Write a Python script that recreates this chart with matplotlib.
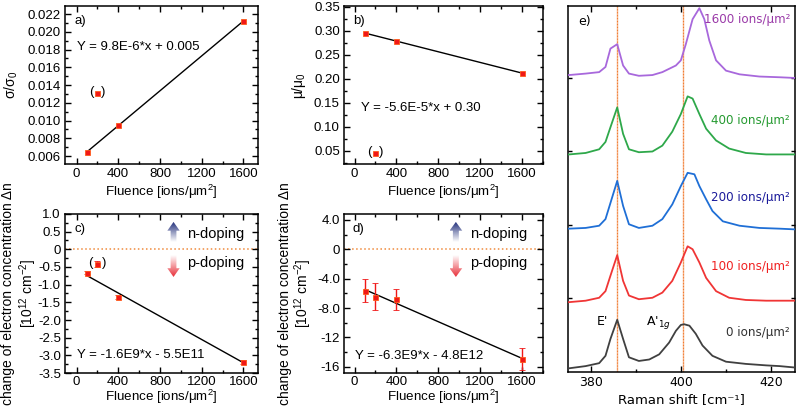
import numpy as np
import matplotlib
matplotlib.use("Agg")
import matplotlib.pyplot as plt
from matplotlib.ticker import AutoMinorLocator, FixedLocator, FixedFormatter, FormatStrFormatter
from matplotlib.patches import Polygon
from matplotlib.colors import LinearSegmentedColormap

plt.rcParams["font.family"] = ["Liberation Sans", "DejaVu Sans"]
plt.rcParams["mathtext.fontset"] = "custom"
plt.rcParams["mathtext.rm"] = "Liberation Sans"
plt.rcParams["mathtext.it"] = "Liberation Sans:italic"
plt.rcParams["axes.unicode_minus"] = False

# transport data (panels a-d)
fluence = [100, 200, 400, 1600]
sigma_ratio = [0.0064, 0.0131, 0.0095, 0.0212]
mu_ratio = [0.296, 0.045, 0.278, 0.212]
dn_hall = [-0.66, -0.41, -1.34, -3.19]
dn_hall_err = [0.05, 0.09, 0.06, 0.05]
dn_raman = [-5.64, -6.45, -6.81, -14.95]
dn_raman_err = [1.6, 1.8, 1.4, 1.45]
excluded = 1  # the 200 ions/um2 sample is bracketed in a-c

fit_text_a = "Y = 9.8E-6*x + 0.005"
fit_text_b = "Y = -5.6E-5*x + 0.30"
fit_text_c = "Y = -1.6E9*x - 5.5E11"
fit_text_d = "Y = -6.3E9*x - 4.8E12"

# Raman spectra (panel e), normalised intensity
x_0 = [375.2, 378.9, 381.9, 383.3, 384.4, 385.9, 387.2, 388.5, 390.7, 393.0, 395.2, 397.4,
       398.9, 400.0, 400.7, 401.9, 403.3, 404.8, 407.0, 410.0, 414.4, 418.9, 421.9, 425.4]
y_0 = [0.05, 0.08, 0.12, 0.22, 0.45, 0.71, 0.45, 0.20, 0.15, 0.17, 0.24, 0.40,
       0.56, 0.64, 0.65, 0.63, 0.52, 0.36, 0.22, 0.14, 0.11, 0.09, 0.08, 0.06]
x_100 = [375.2, 378.9, 381.9, 383.3, 384.4, 385.9, 387.2, 388.5, 390.7, 393.7, 395.9,
         398.1, 400.0, 401.5, 402.6, 404.1, 405.6, 407.8, 410.7, 414.4, 418.9, 425.4]
y_100 = [-0.05, -0.03, 0.01, 0.10, 0.31, 0.59, 0.24, 0.04, -0.01, 0.01, 0.08,
         0.24, 0.49, 0.71, 0.67, 0.49, 0.28, 0.10, 0.01, -0.02, -0.03, -0.03]
x_200 = [375.2, 378.9, 381.9, 383.3, 384.4, 385.9, 387.2, 388.5, 390.7, 393.7, 395.9, 398.1,
         400.0, 401.5, 403.0, 404.1, 405.6, 407.0, 409.3, 413.0, 417.4, 421.9, 425.4]
y_200 = [-0.05, -0.04, -0.01, 0.08, 0.30, 0.60, 0.26, 0.01, -0.04, -0.01, 0.08, 0.28,
         0.53, 0.71, 0.69, 0.53, 0.35, 0.19, 0.05, -0.01, -0.04, -0.05, -0.06]
x_400 = [375.2, 378.9, 381.9, 383.3, 384.4, 385.9, 387.2, 388.5, 390.7, 393.7, 395.9,
         398.1, 400.0, 401.5, 402.6, 404.1, 405.6, 407.8, 410.7, 414.4, 418.9, 425.4]
y_400 = [-0.04, -0.02, 0.03, 0.13, 0.33, 0.60, 0.24, 0.03, -0.01, 0.00, 0.08,
         0.27, 0.51, 0.75, 0.72, 0.51, 0.31, 0.15, 0.04, -0.02, -0.04, -0.04]
x_1600 = [375.2, 378.9, 381.9, 383.3, 384.4, 385.9, 387.2, 388.5, 390.7, 393.7, 395.9, 398.9,
          400.0, 401.1, 402.6, 404.1, 405.2, 406.3, 407.8, 410.0, 413.0, 417.4, 421.9, 425.4]
y_1600 = [0.04, 0.06, 0.08, 0.15, 0.40, 0.46, 0.17, 0.06, 0.03, 0.04, 0.08, 0.17,
          0.24, 0.46, 0.80, 0.95, 0.80, 0.51, 0.24, 0.10, 0.05, 0.02, 0.01, 0.00]
spectra_labels = ["0 ions/μm²", "100 ions/μm²", "200 ions/μm²", "400 ions/μm²", "1600 ions/μm²"]
e_prime = 385.9
a1g = 400.4

line_colors = ["#404040", "#f03535", "#1f6fd6", "#2ea84a", "#a868dc"]
label_colors = ["#303030", "#f02020", "#1a1a9a", "#259a30", "#9a3aa8"]
MARKER_RED = "#f01818"
ZERO_ORANGE = "#f08a3c"

fig = plt.figure(figsize=(7.96, 4.09), dpi=100)
ax_a = fig.add_axes([0.0817, 0.599, 0.2425, 0.3863])
ax_b = fig.add_axes([0.4322, 0.599, 0.2500, 0.3863])
ax_c = fig.add_axes([0.0817, 0.088, 0.2425, 0.3888])
ax_d = fig.add_axes([0.4322, 0.088, 0.2500, 0.3888])
ax_e = fig.add_axes([0.7136, 0.0905, 0.2852, 0.8949])


def style_axis(ax, fontsize=9.5):
    ax.tick_params(which="both", direction="in", top=True, right=True, labelsize=fontsize, pad=3)
    ax.tick_params(which="major", length=4, width=1)
    ax.tick_params(which="minor", length=2, width=1)
    for s in ax.spines.values():
        s.set_linewidth(1.1)


def fluence_axis(ax, pad=2):
    ax.xaxis.set_major_locator(FixedLocator([0, 400, 800, 1200, 1600]))
    ax.xaxis.set_minor_locator(AutoMinorLocator(2))
    ax.yaxis.set_minor_locator(AutoMinorLocator(2))
    ax.set_xlabel("Fluence [ions/μm$^2$]", fontsize=9.6, labelpad=pad)
    style_axis(ax)


def fit_line(ax, y, use):
    xs = np.array(fluence)[use]
    ys = np.array(y)[use]
    k, d = np.polyfit(xs, ys, 1)
    xl = np.array([min(fluence), max(fluence)])
    ax.plot(xl, k * xl + d, color="black", lw=1, zorder=2)


def bracket(ax, x, y, dx=4.4):
    ax.annotate("(", xy=(x, y), xytext=(-dx, 0.5), textcoords="offset points",
                ha="center", va="center", fontsize=9.5, zorder=6)
    ax.annotate(")", xy=(x, y), xytext=(dx, 0.5), textcoords="offset points",
                ha="center", va="center", fontsize=9.5, zorder=6)


def side_label(ax, x, text):
    ax.text(x, 0.5, text, transform=ax.transAxes, rotation=90, ha="center",
            va="center", fontsize=10)


def doping_arrow(ax, x, y_top, y_bot, up, color):
    hw, sw, hl = 0.032, 0.015, 0.055
    if up:
        pts = [(x - sw, y_bot), (x - sw, y_top - hl), (x - hw, y_top - hl), (x, y_top),
               (x + hw, y_top - hl), (x + sw, y_top - hl), (x + sw, y_bot)]
        grad = np.linspace(0, 1, 64).reshape(-1, 1)
    else:
        pts = [(x - sw, y_top), (x - sw, y_bot + hl), (x - hw, y_bot + hl), (x, y_bot),
               (x + hw, y_bot + hl), (x + sw, y_bot + hl), (x + sw, y_top)]
        grad = np.linspace(1, 0, 64).reshape(-1, 1)
    poly = Polygon(pts, closed=True, transform=ax.transAxes, facecolor="none", edgecolor="none")
    ax.add_patch(poly)
    cmap = LinearSegmentedColormap.from_list("arrow", ["#ffffff", color])
    im = ax.imshow(grad, extent=[x - hw, x + hw, y_bot, y_top], transform=ax.transAxes,
                   cmap=cmap, aspect="auto", origin="lower", zorder=3, interpolation="bilinear")
    im.set_clip_path(poly)


keep = [i for i in range(len(fluence)) if i != excluded]

# a) conductivity
fit_line(ax_a, sigma_ratio, keep)
ax_a.plot(fluence, sigma_ratio, "s", color=MARKER_RED, mec="#ff5a1a", mew=0.6, ms=3.6, zorder=4)
bracket(ax_a, fluence[excluded], sigma_ratio[excluded])
ax_a.text(0, 0.0183, fit_text_a, fontsize=9.5, va="center")
ax_a.text(0.047, 0.905, "a)", transform=ax_a.transAxes, fontsize=9.5, va="center")
side_label(ax_a, -0.277, "σ/σ$_0$")
ax_a.yaxis.set_major_locator(FixedLocator(np.arange(0.006, 0.0225, 0.002)))
ax_a.yaxis.set_major_formatter(FormatStrFormatter("%.3f"))
fluence_axis(ax_a)
ax_a.set_xlim(-110, 1740)
ax_a.set_ylim(0.0051, 0.0229)

# b) mobility
fit_line(ax_b, mu_ratio, keep)
ax_b.plot(fluence, mu_ratio, "s", color=MARKER_RED, mec="#ff5a1a", mew=0.6, ms=3.6, zorder=4)
bracket(ax_b, fluence[excluded], mu_ratio[excluded])
ax_b.text(60, 0.139, fit_text_b, fontsize=9.5, va="center")
ax_b.text(0.044, 0.905, "b)", transform=ax_b.transAxes, fontsize=9.5, va="center")
side_label(ax_b, -0.226, "μ/μ$_0$")
ax_b.yaxis.set_major_locator(FixedLocator(np.arange(0.05, 0.36, 0.05)))
ax_b.yaxis.set_major_formatter(FormatStrFormatter("%.2f"))
fluence_axis(ax_b)
ax_b.set_xlim(-100, 1800)
ax_b.set_ylim(0.022, 0.352)

dn_label_1 = "change of electron concentration Δn"
dn_label_2 = "[10$^{12}$ cm$^{-2}$]"

# c) carrier change from transport
fit_line(ax_c, dn_hall, keep)
ax_c.axhline(0, color=ZERO_ORANGE, ls=":", lw=1.1, zorder=1)
ax_c.errorbar(fluence, dn_hall, yerr=dn_hall_err, fmt="s", color=MARKER_RED, mec="#ff5a1a",
              mew=0.6, ms=3.6, ecolor=MARKER_RED, elinewidth=1, capsize=2, capthick=1, zorder=4)
bracket(ax_c, fluence[excluded], dn_hall[excluded], dx=4.8)
ax_c.text(0, -2.98, fit_text_c, fontsize=9.5, va="center")
ax_c.text(0.047, 0.905, "c)", transform=ax_c.transAxes, fontsize=9.5, va="center")
c_ticks = [1.0, 0.5, 0, -0.5, -1.0, -1.5, -2.0, -2.5, -3.0, -3.5]
c_labels = ["1.0", "0.5", "0", "-0.5", "-1.0", "-1.5", "-2.0", "-2.5", "-3.0", "-3.5"]
ax_c.yaxis.set_major_locator(FixedLocator(c_ticks))
ax_c.yaxis.set_major_formatter(FixedFormatter(c_labels))
fluence_axis(ax_c, pad=0)

# d) carrier change from Raman
fit_line(ax_d, dn_raman, list(range(len(fluence))))
ax_d.axhline(0, color=ZERO_ORANGE, ls=":", lw=1.1, zorder=1)
ax_d.errorbar(fluence, dn_raman, yerr=dn_raman_err, fmt="s", color=MARKER_RED, mec="#ff5a1a",
              mew=0.6, ms=3.6, ecolor=MARKER_RED, elinewidth=1, capsize=2, capthick=1, zorder=4)
ax_d.text(0, -14.55, fit_text_d, fontsize=9.5, va="center")
ax_d.text(0.044, 0.905, "d)", transform=ax_d.transAxes, fontsize=9.5, va="center")
d_ticks = [4, 0, -4, -8, -12, -16]
d_labels = ["4.0", "0", "-4.0", "-8.0", "-12", "-16"]
ax_d.yaxis.set_major_locator(FixedLocator(d_ticks))
ax_d.yaxis.set_major_formatter(FixedFormatter(d_labels))
fluence_axis(ax_d, pad=0)

for ax in (ax_c, ax_d):
    ax.tick_params(axis="x", which="both", pad=2)

for ax, x1, x2 in [(ax_c, -0.298, -0.19), (ax_d, -0.298, -0.205)]:
    side_label(ax, x1, dn_label_1)
    side_label(ax, x2, dn_label_2)
    doping_arrow(ax, 0.562, 0.95, 0.824, True, "#1c2a78")
    doping_arrow(ax, 0.562, 0.742, 0.604, False, "#e8303a")
    ax.text(0.632, 0.874, "n-doping", transform=ax.transAxes, fontsize=10.5, va="center")
    ax.text(0.632, 0.692, "p-doping", transform=ax.transAxes, fontsize=10.5, va="center")

ax_c.set_xlim(-110, 1740)
ax_c.set_ylim(-3.5, 1.0)
ax_d.set_xlim(-100, 1800)
ax_d.set_ylim(-16.85, 4.8)

# e) Raman spectra
spectra = [(x_0, y_0), (x_100, y_100), (x_200, y_200), (x_400, y_400), (x_1600, y_1600)]
label_y = [0.54, 1.44, 2.37, 3.42, 4.80]
for i, (xs, ys) in enumerate(spectra):
    ax_e.plot(xs, np.array(ys) + i, color=line_colors[i], lw=1.3, zorder=3)
    ax_e.text(424.2, label_y[i], spectra_labels[i], color=label_colors[i], fontsize=8.6,
              ha="right", va="center", family="DejaVu Sans")
for pos in [e_prime, a1g]:
    ax_e.axvline(pos, color="#f7b58a", lw=1.0, zorder=1)
    ax_e.axvline(pos, color="#f07a30", lw=0.8, ls=":", zorder=1)
ax_e.text(382.6, 0.69, "E'", fontsize=9, ha="center", va="center", family="DejaVu Sans")
ax_e.text(395.0, 0.67, "A'$_{1g}$", fontsize=9, ha="center", va="center",
          family="DejaVu Sans", math_fontfamily="dejavusans")
ax_e.text(0.045, 0.957, "e)", transform=ax_e.transAxes, fontsize=9, va="center",
          family="DejaVu Sans")
ax_e.xaxis.set_major_locator(FixedLocator([380, 400, 420]))
ax_e.xaxis.set_minor_locator(FixedLocator([390, 410]))
ax_e.yaxis.set_major_locator(FixedLocator([1, 2, 3, 4]))
ax_e.set_yticklabels([])
style_axis(ax_e, fontsize=9)
ax_e.tick_params(axis="y", length=3)
for lab in ax_e.get_xticklabels():
    lab.set_family("DejaVu Sans")
ax_e.set_xlabel("Raman shift [cm⁻¹]", fontsize=9.5, family="DejaVu Sans", labelpad=3)
ax_e.set_xlim(375.0, 425.3)
ax_e.set_ylim(0, 4.98)

fig.savefig("out.png", dpi=100)
